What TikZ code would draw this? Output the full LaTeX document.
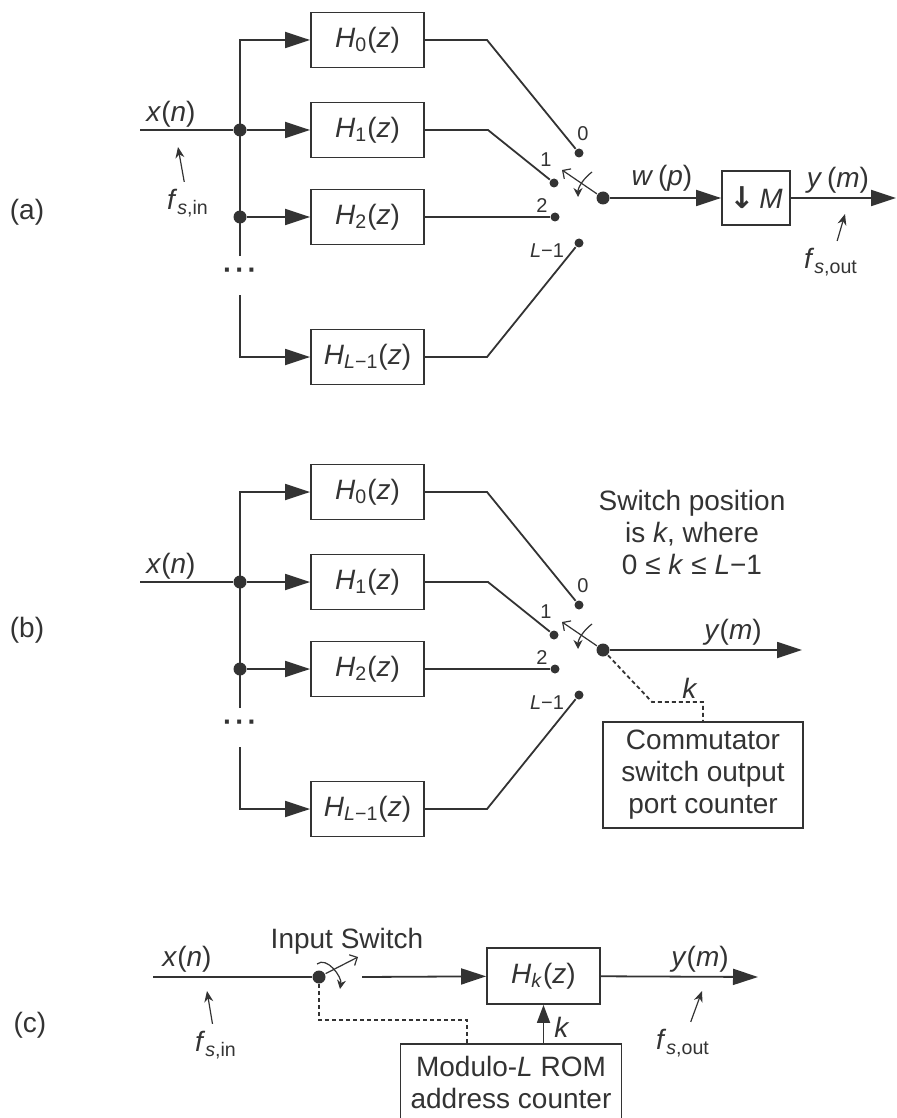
\documentclass[tikz,border=0pt]{standalone}
\usepackage{fontspec}
\setmainfont{Liberation Sans}
\newfontfamily\arrowfont{DejaVu Sans}
\usetikzlibrary{arrows.meta}

\newcommand{\hz}[1]{\textit{H}\textsubscript{#1}(\textit{z})}
\newcommand{\fsr}[1]{\textit{f}\textsubscript{\textit{s},#1}}

\begin{document}
\begin{tikzpicture}[x=0.5pt, y=-0.5pt, line width=0.9pt, color=black!80,
    font=\fontsize{14}{16}\selectfont,
    hb/.style={draw, minimum width=56.5pt, minimum height=27.5pt, inner sep=0pt},
    cb/.style={draw, align=center, inner sep=0pt},
    jd/.style={circle, fill, inner sep=0pt, minimum size=6.5pt},
    td/.style={circle, fill, inner sep=0pt, minimum size=4.5pt},
    pn/.style={font=\fontsize{10}{12}\selectfont},
    tri/.style={-{Triangle[length=12.5pt,width=8pt]}},
    fa/.style={-{Stealth[length=5.5pt,width=4.5pt]}, line width=0.6pt},
    arm/.style={-{Straight Barb[length=3pt,width=6pt]}, line width=0.6pt},
    rot/.style={-{Stealth[length=4.5pt,width=4.5pt]}, line width=0.6pt},
    ctl/.style={dash pattern=on 2pt off 1.5pt}
]
    \clip (0,0) rectangle (897,1118);

    % Filter bank and commutator, shared by (a) and (b)
    \foreach \p/\dy in {a/0, b/452} {
    \begin{scope}[shift={(0,\dy)}]
        \coordinate (xi\p) at (140,130);
        \node[jd] (j1\p) at (240,130) {};
        \node[jd] (j2\p) at (240,217) {};
        \coordinate (bt\p) at (240,40);
        \coordinate (be\p) at (240,256);
        \coordinate (bs\p) at (240,295);
        \coordinate (bb\p) at (240,357);
        \node (dd\p) at (240,274) {\bfseries ·\kern1.5pt·\kern1.5pt·};
        \node (xn\p) at (171,114) {\textit{x}(\textit{n})};

        \node[hb] (h0\p) at (367.5,40) {\hz{0}};
        \node[hb] (h1\p) at (367.5,130) {\hz{1}};
        \node[hb] (h2\p) at (367.5,217) {\hz{2}};
        \node[hb] (hL\p) at (367.5,357) {\hz{\textit{L}−1}};

        % switch terminals
        \node[td] (t0\p) at (579,153) {};
        \node[td] (t1\p) at (554,183) {};
        \node[td] (t2\p) at (555,217) {};
        \node[td] (tL\p) at (579,243) {};
        \node[jd] (pv\p) at (603,198) {};
        \node[pn] (l0\p) at (583,134) {0};
        \node[pn] (l1\p) at (546,160) {1};
        \node[pn] (l2\p) at (542,206) {2};
        \node[pn] (lL\p) at (547,251) {\textit{L}−1};
        \coordinate (k0\p) at (487,40);
        \coordinate (k1\p) at (488,130);
        \coordinate (kL\p) at (487,357);
        \coordinate (am\p) at (562,170);

        \draw (xi\p) -- (j1\p);
        \draw[tri] (be\p) -- (bt\p) -- (h0\p);
        \draw[tri] (j1\p) -- (h1\p);
        \draw[tri] (j2\p) -- (h2\p);
        \draw[tri] (bs\p) -- (bb\p) -- (hL\p);
        \draw (h0\p) -- (k0\p) -- (t0\p);
        \draw (h1\p) -- (k1\p) -- (t1\p);
        \draw (h2\p) -- (t2\p);
        \draw (hL\p) -- (kL\p) -- (tL\p);
        \draw[arm] (pv\p) -- (am\p);
        \draw[rot] ([shift={(-11,-26)}]pv\p.center) .. controls +(-8,6) and +(0,-10) .. ([shift={(-25,-1)}]pv\p.center);
    \end{scope}
    }

    % (a) decimation
    \node (pa) at (27,212) {(a)};
    \node (fia) at (188,203) {\fsr{in}};
    \coordinate (fta) at (178,147);
    \draw[fa] (fia) -- (fta);
    \node[hb, minimum width=34pt, minimum height=27pt] (dm) at (756,198) {{\arrowfont\bfseries\fontsize{15}{15}\selectfont ↓}\,\textit{M}};
    \coordinate (ya) at (896,198);
    \draw[tri] (pva) -- (dm);
    \draw[tri] (dm) -- (ya);
    \node (wp) at (662,178) {\textit{w}\,(\textit{p})};
    \node (yma) at (838,180) {\textit{y}\,(\textit{m})};
    \node (foa) at (831,262) {\fsr{out}};
    \coordinate (fto) at (845,214);
    \draw[fa] (foa) -- (fto);

    % (b) commutator counter
    \node (pb) at (27,630) {(b)};
    \coordinate (yb) at (802,650);
    \draw[tri] (pvb) -- (yb);
    \node (ymb) at (733,632) {\textit{y}(\textit{m})};
    \node[align=center] (swt) at (692,532) {Switch position\\is \textit{k}, where\\0 ≤ \textit{k} ≤ \textit{L}−1};
    \node[cb, minimum width=100pt, minimum height=53pt] (cnt) at (703,775) {Commutator\\switch output\\port counter};
    \coordinate (kb1) at (652,702);
    \draw[ctl] (pvb) -- (kb1) -- (kb1 -| cnt) -- (cnt);
    \node (kl) at (690,688) {\textit{k}};

    % (c) single filter
    \node (pc) at (30,1025) {(c)};
    \coordinate (xic) at (153,977);
    \node[jd] (pvc) at (319,977) {};
    \coordinate (amc) at (358,957);
    \coordinate (swc) at (362,977);
    \node[hb, minimum height=28pt] (hk) at (543.5,976) {\hz{\textit{k}}};
    \coordinate (yc) at (758,977);
    \node[cb, minimum width=110.5pt, minimum height=38pt] (rom) at (511,1082) {Modulo-\textit{L} ROM\\address counter};
    \coordinate (crc) at (467,1020);
    \node (xnc) at (187,959) {\textit{x}(\textit{n})};
    \node (isw) at (347,941) {Input Switch};
    \node (ymc) at (700,959) {\textit{y}(\textit{m})};
    \node (kc) at (562,1027) {\textit{k}};
    \node (fic) at (216,1045) {\fsr{in}};
    \coordinate (ftc) at (207,991);
    \node (foc) at (683,1043) {\fsr{out}};
    \coordinate (ftd) at (702,991);

    \draw (xic) -- (pvc);
    \draw[arm] (pvc) -- (amc);
    \draw[rot] ([shift={(-2,-13)}]pvc.center) .. controls +(10,-8) and +(2,-12) .. ([shift={(21,12)}]pvc.center);
    \draw[tri] (swc) -- (hk);
    \draw[tri] (hk) -- (yc);
    \draw[-{Triangle[length=9pt,width=6.5pt]}] (rom.north -| hk) -- (hk);
    \draw[ctl] (pvc) |- (crc) -- (crc |- rom.north);
    \draw[fa] (fic) -- (ftc);
    \draw[fa] (foc) -- (ftd);
\end{tikzpicture}
\end{document}
